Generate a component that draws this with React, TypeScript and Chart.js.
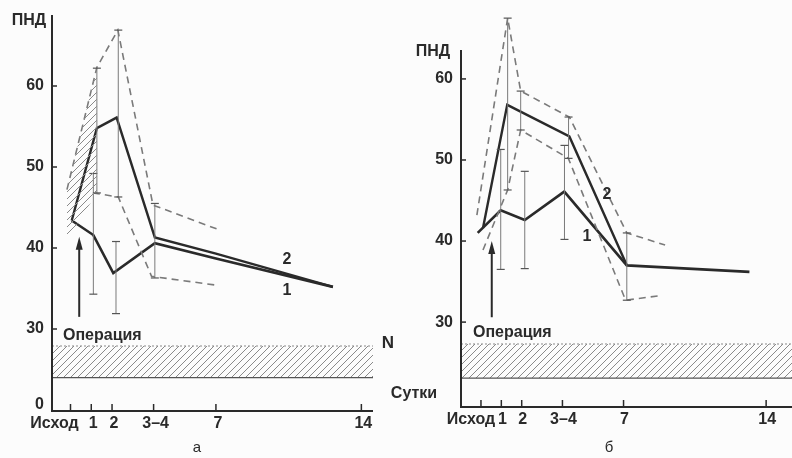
import React, { useEffect, useRef } from 'react';
import { Chart, registerables } from 'chart.js';
Chart.register(...registerables);

// ---------- shared axis data ----------
const X_TICKS = [0, 1, 2, 4, 7, 14];
const X_TICK_LABELS = ['Исход', '1', '2', '3–4', '7', '14'];

// ---------- panel а ----------
const A_Y_TICKS = [20, 30, 40, 50, 60];
const A_Y_TICK_LABELS = ['0', '30', '40', '50', '60'];
const A_LINE1_X = [0.06, 1.1, 2.06, 4.06, 7.0, 12.63];
const A_LINE1_Y = [43.4, 41.6, 36.9, 40.6, 38.7, 35.2];
const A_LINE2_X = [0.06, 1.27, 2.22, 4.06, 7.0, 12.63];
const A_LINE2_Y = [43.4, 54.8, 56.1, 41.3, 39.3, 35.2];
const A_UPPER_X = [-0.17, 1.27, 2.28, 3.97, 7.2];
const A_UPPER_Y = [47.2, 62.3, 66.9, 45.3, 42.2];
const A_LOWER_X = [1.08, 2.3, 3.9, 7.05];
const A_LOWER_Y = [46.8, 46.3, 36.5, 35.4];
const A_BAR_X = [1.27, 1.1, 2.3, 2.19, 4.06];
const A_BAR_LO = [46.8, 34.3, 46.3, 31.9, 36.3];
const A_BAR_HI = [62.2, 49.2, 66.9, 40.8, 45.5];
const A_HATCH_X = [-0.17, 1.27];
const A_HATCH_TOP = [47.2, 62.3];
const A_HATCH_BOTTOM = [41.0, 46.8];
const A_NORM = [24.0, 27.9];
const A_NORM_X = [-0.89, 14.56];
const A_ARROW = { x: 0.42, from: 31.5, to: 41.4 };

// ---------- panel б ----------
const B_Y_TICKS = [30, 40, 50, 60];
const B_Y_TICK_LABELS = ['30', '40', '50', '60'];
const B_LINE1_X = [-0.16, 0.97, 2.15, 4.09, 7.16, 13.18];
const B_LINE1_Y = [41.0, 43.8, 42.6, 46.1, 37.0, 36.2];
const B_LINE2_X = [0.1, 1.29, 4.34, 7.16];
const B_LINE2_Y = [41.6, 56.8, 52.9, 37.0];
const B_UPPER_X = [-0.2, 1.31, 1.95, 4.34, 7.16, 9.04];
const B_UPPER_Y = [43.2, 67.5, 58.5, 55.3, 41.0, 39.5];
const B_LOWER_X = [0.1, 1.31, 1.95, 4.29, 7.1, 8.88];
const B_LOWER_Y = [38.9, 46.3, 53.7, 50.2, 32.7, 33.3];
const B_BAR_X = [0.97, 1.31, 1.95, 2.15, 4.1, 4.3, 7.16];
const B_BAR_LO = [36.5, 46.3, 53.7, 36.6, 40.2, 50.2, 32.7];
const B_BAR_HI = [51.3, 67.5, 58.5, 48.6, 51.8, 55.3, 41.0];
const B_NORM = [23.1, 27.3];
const B_NORM_X = [-0.98, 15.27];
const B_ARROW = { x: 0.53, from: 30.6, to: 40.0 };

const INK = '#2a2a2a';
const GREY = '#7a7a7a';
const FONT = 'bold 16px "Liberation Sans", Arial, sans-serif';

const pts = (xs: number[], ys: number[]) => xs.map((x, i) => ({ x, y: ys[i] }));

function makeHatch(): CanvasPattern | string {
  const c = document.createElement('canvas');
  c.width = 7;
  c.height = 7;
  const g = c.getContext('2d')!;
  g.strokeStyle = '#8a8a8a';
  g.lineWidth = 1;
  g.beginPath();
  g.moveTo(-1, 8);
  g.lineTo(8, -1);
  g.stroke();
  const p = g.createPattern(c, 'repeat');
  return p || 'rgba(0,0,0,0.15)';
}

type Panel = {
  l1x: number[]; l1y: number[]; l2x: number[]; l2y: number[];
  ux: number[]; uy: number[]; lx: number[]; ly: number[];
  bx: number[]; blo: number[]; bhi: number[];
  norm: number[]; normX: number[];
  hatchX?: number[]; hatchTop?: number[]; hatchBottom?: number[];
};

function buildDatasets(p: Panel, hatch: any) {
  const ds: any[] = [];
  const base = { pointRadius: 0, fill: false, tension: 0 };
  ds.push({ ...base, data: pts(p.normX, [p.norm[0], p.norm[0]]), borderColor: '#555', borderWidth: 1.2 });
  ds.push({ ...base, data: pts(p.normX, [p.norm[1], p.norm[1]]), borderColor: '#8a8a8a', borderWidth: 1, borderDash: [2, 2], fill: '-1', backgroundColor: hatch });
  if (p.hatchX && p.hatchTop && p.hatchBottom) {
    ds.push({ ...base, data: pts(p.hatchX, p.hatchBottom), borderWidth: 0, borderColor: 'rgba(0,0,0,0)' });
    ds.push({ ...base, data: pts(p.hatchX, p.hatchTop), borderWidth: 0, borderColor: 'rgba(0,0,0,0)', fill: '-1', backgroundColor: hatch });
  }
  p.bx.forEach((x, i) => {
    ds.push({
      data: [{ x, y: p.blo[i] }, { x, y: p.bhi[i] }],
      borderColor: GREY, borderWidth: 1, fill: false,
      pointStyle: 'line', pointRadius: 4, pointBorderColor: '#555', pointBorderWidth: 1.2,
      pointBackgroundColor: '#555',
    });
  });
  ds.push({ ...base, data: pts(p.ux, p.uy), borderColor: GREY, borderWidth: 1.6, borderDash: [7, 5] });
  ds.push({ ...base, data: pts(p.lx, p.ly), borderColor: GREY, borderWidth: 1.6, borderDash: [7, 5] });
  ds.push({ ...base, data: pts(p.l1x, p.l1y), borderColor: INK, borderWidth: 2.6 });
  ds.push({ ...base, data: pts(p.l2x, p.l2y), borderColor: INK, borderWidth: 2.4 });
  return ds;
}

type Deco = {
  axisTop: number;
  yTicks: number[]; yLabels: string[]; yLabelX: number;
  labelY: number; isxodShift: number; labelShift: number;
  arrow: { x: number; from: number; to: number };
  texts: { t: string; x: number; y: number; align?: CanvasTextAlign; font?: string }[];
};

function decoPlugin(d: Deco) {
  return {
    id: 'deco',
    afterDraw(chart: any) {
      const ctx: CanvasRenderingContext2D = chart.ctx;
      const xs = chart.scales.x;
      const ys = chart.scales.y;
      const a = chart.chartArea;
      ctx.save();
      ctx.strokeStyle = INK;
      ctx.fillStyle = INK;
      ctx.lineWidth = 2;
      ctx.beginPath();
      ctx.moveTo(a.left, d.axisTop);
      ctx.lineTo(a.left, a.bottom + 1);
      ctx.lineTo(a.right, a.bottom + 1);
      ctx.stroke();
      ctx.lineWidth = 1.5;
      ctx.font = FONT;
      ctx.textAlign = 'right';
      ctx.textBaseline = 'middle';
      d.yTicks.forEach((v, i) => {
        const py = ys.getPixelForValue(v);
        if (v > ys.min + 0.01) {
          ctx.beginPath();
          ctx.moveTo(a.left, py);
          ctx.lineTo(a.left + 5, py);
          ctx.stroke();
        }
        ctx.fillText(d.yLabels[i], d.yLabelX, py + (v <= ys.min + 0.01 ? -5 : 0));
      });
      ctx.textAlign = 'center';
      X_TICKS.forEach((v, i) => {
        const px = xs.getPixelForValue(v);
        ctx.beginPath();
        ctx.moveTo(px, a.bottom);
        ctx.lineTo(px, a.bottom - 6);
        ctx.stroke();
        const sx = i === 0 ? d.isxodShift : d.labelShift;
        ctx.fillText(X_TICK_LABELS[i], px + sx, d.labelY);
      });
      const ax = xs.getPixelForValue(d.arrow.x);
      const y0 = ys.getPixelForValue(d.arrow.from);
      const y1 = ys.getPixelForValue(d.arrow.to);
      ctx.lineWidth = 2;
      ctx.beginPath();
      ctx.moveTo(ax, y0);
      ctx.lineTo(ax, y1 + 10);
      ctx.stroke();
      ctx.beginPath();
      ctx.moveTo(ax, y1);
      ctx.lineTo(ax - 3.5, y1 + 13);
      ctx.lineTo(ax + 3.5, y1 + 13);
      ctx.closePath();
      ctx.fill();
      d.texts.forEach((t) => {
        ctx.font = t.font || FONT;
        ctx.textAlign = t.align || 'center';
        ctx.fillText(t.t, t.x, t.y);
      });
      ctx.restore();
    },
  };
}

export default function App() {
  const refA = useRef<HTMLCanvasElement>(null);
  const refB = useRef<HTMLCanvasElement>(null);

  useEffect(() => {
    const hatch = makeHatch();
    const common = (min: number, max: number, ymin: number, ymax: number, padding: any) => ({
      responsive: false,
      animation: false as const,
      devicePixelRatio: 1,
      layout: { padding, autoPadding: false },
      scales: {
        x: { type: 'linear' as const, display: false, min, max },
        y: { type: 'linear' as const, display: false, min: ymin, max: ymax },
      },
      plugins: { legend: { display: false }, tooltip: { enabled: false } },
      events: [],
    });

    const chartA = new Chart(refA.current!, {
      type: 'line',
      data: {
        datasets: buildDatasets({
          l1x: A_LINE1_X, l1y: A_LINE1_Y, l2x: A_LINE2_X, l2y: A_LINE2_Y,
          ux: A_UPPER_X, uy: A_UPPER_Y, lx: A_LOWER_X, ly: A_LOWER_Y,
          bx: A_BAR_X, blo: A_BAR_LO, bhi: A_BAR_HI,
          norm: A_NORM, normX: A_NORM_X,
          hatchX: A_HATCH_X, hatchTop: A_HATCH_TOP, hatchBottom: A_HATCH_BOTTOM,
        }, hatch),
      },
      options: common(-0.89, 14.56, 20, 70, { left: 52, right: 419, top: 5, bottom: 48 }) as any,
      plugins: [decoPlugin({
        axisTop: 15,
        yTicks: A_Y_TICKS, yLabels: A_Y_TICK_LABELS, yLabelX: 44,
        labelY: 424, isxodShift: -16, labelShift: 2,
        arrow: A_ARROW,
        texts: [
          { t: 'ПНД', x: 29, y: 21 },
          { t: 'Операция', x: 63, y: 336, align: 'left' },
          { t: '2', x: 287, y: 260 },
          { t: '1', x: 287, y: 291 },
          { t: 'N', x: 388, y: 343, font: 'bold 17px "Liberation Sans", Arial, sans-serif' },
          { t: 'Сутки', x: 414, y: 394 },
          { t: 'а', x: 197, y: 448, font: '15px "Liberation Sans", Arial, sans-serif' },
        ],
      }) as any],
    });

    const chartB = new Chart(refB.current!, {
      type: 'line',
      data: {
        datasets: buildDatasets({
          l1x: B_LINE1_X, l1y: B_LINE1_Y, l2x: B_LINE2_X, l2y: B_LINE2_Y,
          ux: B_UPPER_X, uy: B_UPPER_Y, lx: B_LOWER_X, ly: B_LOWER_Y,
          bx: B_BAR_X, blo: B_BAR_LO, bhi: B_BAR_HI,
          norm: B_NORM, normX: B_NORM_X,
        }, hatch),
      },
      options: common(-0.98, 15.27, 19.65, 69.12, { left: 461, right: 0, top: 5, bottom: 52 }) as any,
      plugins: [decoPlugin({
        axisTop: 50,
        yTicks: B_Y_TICKS, yLabels: B_Y_TICK_LABELS, yLabelX: 453,
        labelY: 420, isxodShift: -10, labelShift: 1,
        arrow: B_ARROW,
        texts: [
          { t: 'ПНД', x: 433, y: 52 },
          { t: 'Операция', x: 473, y: 333, align: 'left' },
          { t: '2', x: 607, y: 195 },
          { t: '1', x: 587, y: 237 },
          { t: 'б', x: 609, y: 448, font: '15px "Liberation Sans", Arial, sans-serif' },
        ],
      }) as any],
    });

    return () => {
      chartA.destroy();
      chartB.destroy();
    };
  }, []);

  return (
    <div style={{ position: 'fixed', left: 0, top: 0, width: 792, height: 458, background: '#fcfcfc' }}>
      <canvas ref={refA} width={792} height={458} style={{ position: 'absolute', left: 0, top: 0 }} />
      <canvas ref={refB} width={792} height={458} style={{ position: 'absolute', left: 0, top: 0 }} />
    </div>
  );
}
